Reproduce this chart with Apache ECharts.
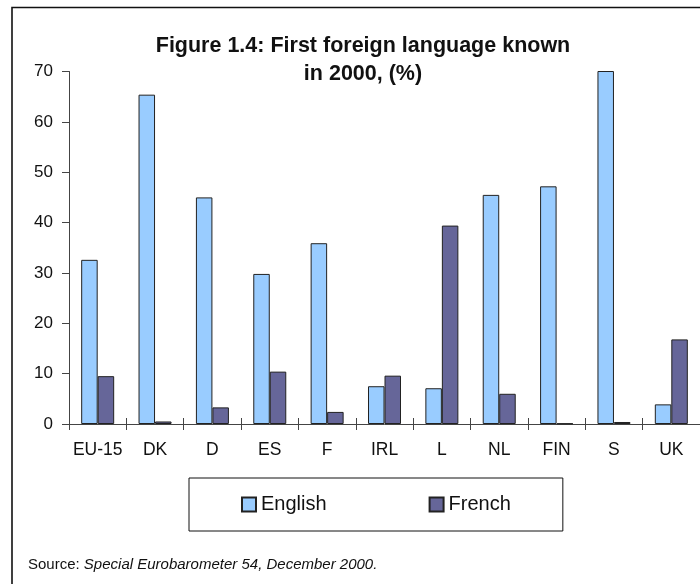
<!DOCTYPE html>
<html>
<head>
<meta charset="utf-8">
<script src="https://cdn.jsdelivr.net/npm/echarts@6/dist/echarts.min.js"></script>
<style>html,body{margin:0;padding:0;background:#fff}#c{width:700px;height:584px}</style>
</head>
<body>
<div id="c"></div>
<script>
const categories = ['EU-15','DK','D','ES','F','IRL','L','NL','FIN','S','UK'];
const english = [32.6, 65.4, 45.0, 29.8, 35.9, 7.5, 7.1, 45.5, 47.2, 70.2, 3.9];
const french  = [9.5, 0.5, 3.3, 10.4, 2.4, 9.6, 39.4, 6.0, 0.1, 0.4, 16.8];
const yTicks = [0, 10, 20, 30, 40, 50, 60, 70];
const seriesNames = ['English', 'French'];

const FONT = '"Liberation Sans", Arial, sans-serif';
const chart = echarts.init(document.getElementById('c'), null, {renderer: 'canvas'});
const plotTop = 71.5, plotBottom = 160;
const plotH = 584 - plotTop - plotBottom;

chart.setOption({
  animation: false,
  backgroundColor: '#fff',
  textStyle: {fontFamily: FONT, color: '#111'},
  title: [{
    text: 'Figure 1.4: First foreign language known\nin 2000, (%)',
    left: 363, top: 32, padding: 0, textAlign: 'center',
    textStyle: {fontFamily: FONT, fontSize: 21.5, fontWeight: 'bold', color: '#111', lineHeight: 28, align: 'center'}
  }, {
    text: '{n|Source: }{i|Special Eurobarometer 54, December 2000.}',
    left: 28, top: 557, padding: 0,
    textStyle: {
      fontFamily: FONT, fontSize: 15, fontWeight: 'normal', color: '#111',
      rich: {
        n: {fontFamily: FONT, fontSize: 15, fontWeight: 'normal', color: '#111'},
        i: {fontFamily: FONT, fontSize: 15, fontWeight: 'normal', color: '#111', fontStyle: 'italic'}
      }
    }
  }],
  graphic: [{
    type: 'rect', silent: true,
    shape: {x: 12, y: 7.5, width: 900, height: 900},
    style: {fill: 'none', stroke: '#111', lineWidth: 1.6}
  }],
  legend: {
    data: seriesNames,
    left: 189, top: 478,
    padding: [16, 52, 16, 52],
    borderColor: '#111', borderWidth: 1,
    itemWidth: 14, itemHeight: 14, itemGap: 102,
    icon: 'rect',
    textStyle: {fontFamily: FONT, fontSize: 20, color: '#111', lineHeight: 21}
  },
  grid: {left: 69, right: -3, top: plotTop, bottom: plotBottom, containLabel: false},
  xAxis: [{
    type: 'category', data: categories, position: 'bottom',
    axisLine: {show: true, lineStyle: {color: '#444', width: 1}},
    axisTick: {show: true, length: 6, inside: false, lineStyle: {color: '#444'}},
    axisLabel: {fontFamily: FONT, fontSize: 17.5, color: '#111', margin: 17, interval: 0}
  }, {
    type: 'category', data: categories, position: 'top', offset: -plotH,
    axisLine: {show: false},
    axisTick: {show: true, length: 6, inside: false, lineStyle: {color: '#444'}},
    axisLabel: {show: false}
  }],
  yAxis: {
    type: 'value', min: yTicks[0], max: yTicks[yTicks.length - 1], interval: 10,
    axisLine: {show: true, lineStyle: {color: '#444', width: 1}},
    axisTick: {show: true, length: 7, inside: false, lineStyle: {color: '#444'}},
    axisLabel: {fontFamily: FONT, fontSize: 17, color: '#111', margin: 16},
    splitLine: {show: false}
  },
  series: [{
    name: seriesNames[0], type: 'bar', data: english, xAxisIndex: 0,
    barWidth: 16.5, barGap: '0%',
    itemStyle: {color: '#99CCFF', borderColor: '#222', borderWidth: 1}
  }, {
    name: seriesNames[1], type: 'bar', data: french, xAxisIndex: 0,
    barWidth: 16.5, barGap: '0%',
    itemStyle: {color: '#666699', borderColor: '#222', borderWidth: 1}
  }]
});
</script>
</body>
</html>
